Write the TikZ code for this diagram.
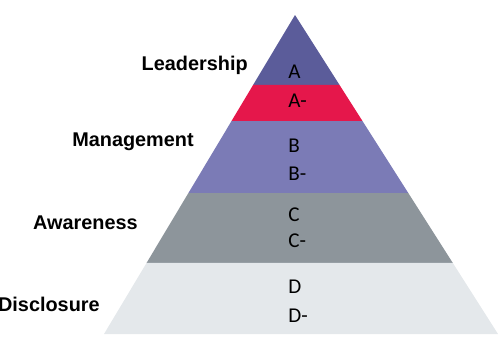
\documentclass[tikz,border=0pt]{standalone}
\usepackage{fontspec}
\setmainfont{Carlito}
\newfontfamily\levelfont{Liberation Sans}
\usetikzlibrary{calc}
\definecolor{leadcol}{HTML}{5B5C9A}
\definecolor{redcol}{HTML}{E5174B}
\definecolor{mancol}{HTML}{7B7BB6}
\definecolor{awcol}{HTML}{8D959B}
\definecolor{disccol}{HTML}{E4E8EB}
\tikzset{
    grade/.style={anchor=base west,inner sep=0pt,font=\fontsize{12}{14}\selectfont},
    level/.style={anchor=base east,inner sep=0pt,font=\levelfont\bfseries\fontsize{11.3}{13}\selectfont},
}

\begin{document}
\begin{tikzpicture}[x=0.02cm,y=-0.02cm]
            \useasboundingbox (0,0) rectangle (500,349);
            \coordinate (apex) at (295,15);
            \coordinate (bl) at (104,334);
            \coordinate (br) at (498,334);
            % band edges
            \coordinate (l1) at ($(apex)!0.2194!(bl)$);
            \coordinate (r1) at ($(apex)!0.2194!(br)$);
            \coordinate (l2) at ($(apex)!0.3323!(bl)$);
            \coordinate (r2) at ($(apex)!0.3323!(br)$);
            \coordinate (l3) at ($(apex)!0.5580!(bl)$);
            \coordinate (r3) at ($(apex)!0.5580!(br)$);
            \coordinate (l4) at ($(apex)!0.7774!(bl)$);
            \coordinate (r4) at ($(apex)!0.7774!(br)$);
            \fill[leadcol] (apex) -- (r1) -- (l1) -- cycle;
            \fill[redcol] (l1) -- (r1) -- (r2) -- (l2) -- cycle;
            \fill[mancol] (l2) -- (r2) -- (r3) -- (l3) -- cycle;
            \fill[awcol] (l3) -- (r3) -- (r4) -- (l4) -- cycle;
            \fill[disccol] (l4) -- (r4) -- (br) -- (bl) -- cycle;
            % grades
            \node[grade] (a) at (288,78) {A};
            \node[grade] (am) at (288,107) {A-};
            \node[grade] (b) at (288,152) {B};
            \node[grade] (bm) at (288,180) {B-};
            \node[grade] (c) at (288,221) {C};
            \node[grade] (cm) at (288,247) {C-};
            \node[grade] (d) at (288,293) {D};
            \node[grade] (dm) at (288,322) {D-};
            % levels
            \node[level] (lead) at (248,70) {Leadership};
            \node[level] (man) at (194,146) {Management};
            \node[level] (aware) at (138,229) {Awareness};
            \node[level] (disc) at (100,311) {Disclosure};
        \end{tikzpicture}
\end{document}
